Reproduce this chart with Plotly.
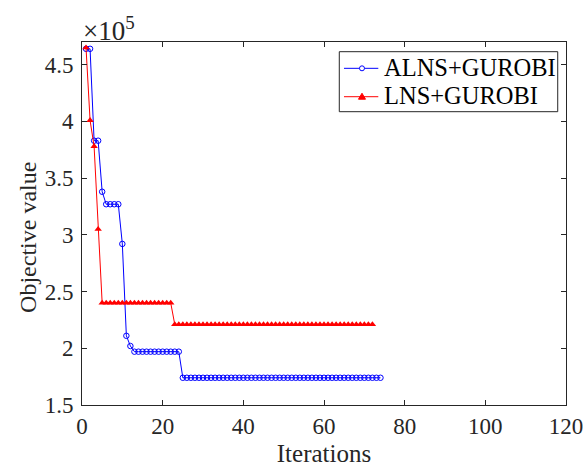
import plotly.graph_objects as go

# Objective value per iteration for each solver combination
alns_iter = list(range(1, 75))
alns_obj = ([464000] * 2 + [383000] * 2 + [338000] + [327000] * 4 + [292000]
            + [211000] + [202000] + [197000] * 12 + [174000] * 50)

lns_iter = list(range(1, 73))
lns_obj = ([465000] + [401000] + [378000] + [305000] + [240000] * 18
           + [221000] * 50)

series_names = ["ALNS+GUROBI", "LNS+GUROBI"]
series_colors = ["#0000FF", "#FF0000"]

SCALE = 1e5
x_ticks = [0, 20, 40, 60, 80, 100, 120]
y_ticks = [1.5, 2, 2.5, 3, 3.5, 4, 4.5]

FONT = "Liberation Serif"
AX = "#262626"

fig = go.Figure()
fig.add_trace(go.Scatter(
    x=alns_iter, y=[v / SCALE for v in alns_obj], name=series_names[0],
    mode="lines+markers", showlegend=False,
    line=dict(color=series_colors[0], width=1),
    marker=dict(symbol="circle-open", size=5.5, color=series_colors[0],
                line=dict(width=1, color=series_colors[0])),
))
fig.add_trace(go.Scatter(
    x=lns_iter, y=[v / SCALE for v in lns_obj], name=series_names[1],
    mode="lines+markers", showlegend=False,
    line=dict(color=series_colors[1], width=1),
    marker=dict(symbol="triangle-up", size=6.5, color=series_colors[1]),
))

axis_common = dict(
    showline=True, linecolor=AX, linewidth=1, mirror="ticks",
    ticks="inside", ticklen=5, tickcolor=AX, showgrid=False,
    zeroline=False, automargin=False,
    tickfont=dict(family=FONT, size=23, color=AX),
)

# Boxed legend in the upper-right corner (paper coordinates)
LEG_BOX = (0.5316, 0.808, 0.9829, 0.9733)
LEG_ROWS = [0.9275, 0.8493]
LEG_LINE = (0.5413, 0.6122)
LEG_MARK = 0.5785
LEG_TEXT_X = 0.6192

shapes = [dict(type="rect", xref="paper", yref="paper",
               x0=LEG_BOX[0], y0=LEG_BOX[1], x1=LEG_BOX[2], y1=LEG_BOX[3],
               line=dict(color=AX, width=1), fillcolor="white", layer="above")]
annotations = []
for name, color, ry in zip(series_names, series_colors, LEG_ROWS):
    shapes.append(dict(type="line", xref="paper", yref="paper",
                       x0=LEG_LINE[0], x1=LEG_LINE[1], y0=ry, y1=ry,
                       line=dict(color=color, width=1), layer="above"))
    annotations.append(dict(text=name, xref="paper", yref="paper",
                            x=LEG_TEXT_X, y=ry, xanchor="left", yanchor="middle",
                            showarrow=False, yshift=1,
                            font=dict(family=FONT, size=24.5, color="black")))
# legend glyphs: open circle and filled triangle
shapes.append(dict(type="circle", xref="paper", yref="paper",
                   xsizemode="pixel", ysizemode="pixel",
                   xanchor=LEG_MARK, yanchor=LEG_ROWS[0],
                   x0=-2.5, x1=2.5, y0=-2.5, y1=2.5,
                   line=dict(color=series_colors[0], width=1),
                   fillcolor="white", layer="above"))
shapes.append(dict(type="path", xref="paper", yref="paper",
                   xsizemode="pixel", ysizemode="pixel",
                   xanchor=LEG_MARK, yanchor=LEG_ROWS[1],
                   path="M-3.5,-2.5 L3.5,-2.5 L0,3.5 Z",
                   line=dict(color=series_colors[1], width=1),
                   fillcolor=series_colors[1], layer="above"))

annotations.append(dict(
    text="×10<sup>5</sup>", xref="paper", yref="paper", x=0, y=1,
    xanchor="left", yanchor="bottom", showarrow=False,
    font=dict(family=FONT, size=27, color=AX), yshift=-6, xshift=-1,
))
annotations.append(dict(
    text="Objective value", xref="paper", yref="paper", x=-0.1116, y=0.463,
    xanchor="center", yanchor="middle", textangle=-90, showarrow=False,
    font=dict(family=FONT, size=24, color=AX),
))

fig.update_layout(
    width=586, height=470,
    margin=dict(l=82, r=20, t=42, b=65),
    paper_bgcolor="white", plot_bgcolor="white",
    font=dict(family=FONT, color=AX),
    xaxis=dict(range=[0, 120], tickvals=x_ticks,
               title=dict(text="Iterations", font=dict(family=FONT, size=25),
                          standoff=6),
               **axis_common),
    yaxis=dict(range=[1.5, 4.7], tickvals=y_ticks,
               ticktext=[f"{t:g}" for t in y_ticks],
               ticklabelstandoff=3,
               **axis_common),
    showlegend=False,
    shapes=shapes,
    annotations=annotations,
)

fig.write_html("out.html")
